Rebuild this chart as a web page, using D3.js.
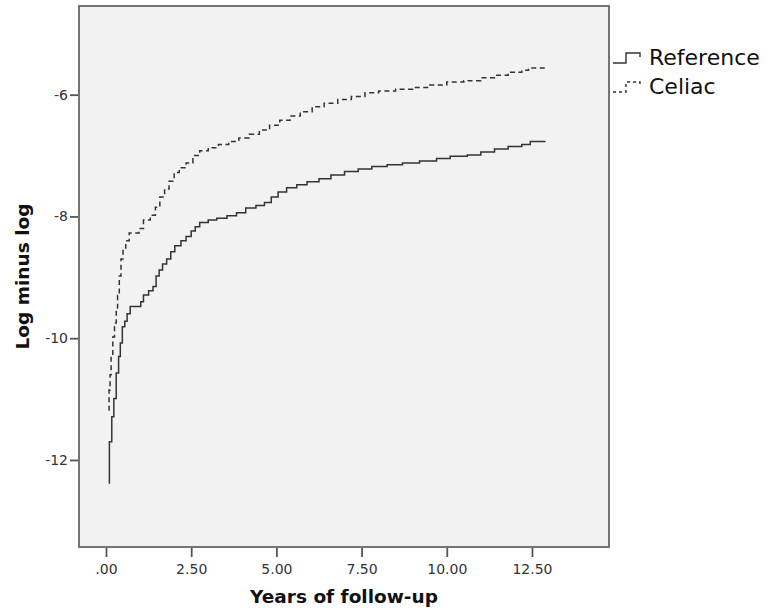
<!DOCTYPE html>
<html>
<head>
<meta charset="utf-8">
<script src="https://cdn.jsdelivr.net/npm/d3@7"></script>
<style>
  body { margin: 0; background: #fff; }
  text { font-family: "DejaVu Sans", sans-serif; }
</style>
</head>
<body>
<div id="chart"></div>
<script>
// DATA
const seriesNames = ["Reference", "Celiac"];

// Reference group: [years, log minus log]
const referenceSteps = [
  [0.08, -12.38], [0.10, -11.70], [0.17, -11.29], [0.23, -10.99], [0.30, -10.57],
  [0.37, -10.30], [0.42, -10.08], [0.48, -9.81], [0.55, -9.72], [0.62, -9.60],
  [0.71, -9.48], [1.02, -9.40], [1.10, -9.29], [1.25, -9.22], [1.38, -9.15],
  [1.47, -8.98], [1.56, -8.88], [1.66, -8.78], [1.78, -8.70], [1.90, -8.58],
  [2.02, -8.48], [2.20, -8.40], [2.35, -8.33], [2.50, -8.24], [2.62, -8.17],
  [2.75, -8.10], [3.00, -8.06], [3.25, -8.03], [3.55, -7.99], [3.83, -7.94],
  [4.10, -7.86], [4.40, -7.82], [4.65, -7.77], [4.85, -7.68], [5.05, -7.60],
  [5.30, -7.53], [5.60, -7.48], [5.90, -7.43], [6.25, -7.38], [6.60, -7.32],
  [7.00, -7.26], [7.40, -7.22], [7.80, -7.18], [8.25, -7.15], [8.70, -7.12],
  [9.20, -7.09], [9.70, -7.05], [10.10, -7.01], [10.60, -6.99], [11.00, -6.94],
  [11.40, -6.89], [11.80, -6.85], [12.20, -6.82], [12.45, -6.77], [12.88, -6.76]
];

// Celiac group
const celiacSteps = [
  [0.07, -11.18], [0.09, -10.85], [0.12, -10.60], [0.15, -10.30], [0.20, -9.98],
  [0.25, -9.75], [0.30, -9.55], [0.34, -9.30], [0.39, -8.98], [0.44, -8.70],
  [0.50, -8.52], [0.58, -8.40], [0.68, -8.27], [0.97, -8.20], [1.10, -8.06],
  [1.30, -7.98], [1.45, -7.85], [1.58, -7.68], [1.72, -7.55], [1.85, -7.42],
  [2.00, -7.28], [2.15, -7.20], [2.35, -7.12], [2.55, -7.00], [2.75, -6.92],
  [3.00, -6.87], [3.30, -6.82], [3.60, -6.77], [3.90, -6.71], [4.20, -6.65],
  [4.50, -6.58], [4.80, -6.50], [5.10, -6.42], [5.40, -6.35], [5.70, -6.28],
  [6.05, -6.20], [6.40, -6.14], [6.80, -6.08], [7.20, -6.03], [7.60, -5.97],
  [8.00, -5.94], [8.50, -5.91], [9.00, -5.88], [9.50, -5.84], [10.00, -5.79],
  [10.50, -5.77], [11.00, -5.72], [11.40, -5.68], [11.80, -5.63], [12.20, -5.60],
  [12.40, -5.56], [12.88, -5.55]
];

const xTicks = [0, 2.5, 5, 7.5, 10, 12.5];
const xTickLabels = [".00", "2.50", "5.00", "7.50", "10.00", "12.50"];
const yTicks = [-6, -8, -10, -12];
const yTickLabels = ["-6", "-8", "-10", "-12"];

// LAYOUT
const width = 772;
const height = 614;
const plot = { left: 79, top: 6, right: 609, bottom: 547 };

const svg = d3.select('#chart').append('svg')
  .attr('width', width)
  .attr('height', height);

const x = d3.scaleLinear()
  .domain([-0.792, 14.76])
  .range([plot.left, plot.right]);

const y = d3.scaleLinear()
  .domain([-13.43, -4.543])
  .range([plot.bottom, plot.top]);

// plot area
svg.append('rect')
  .attr('x', plot.left)
  .attr('y', plot.top)
  .attr('width', plot.right - plot.left)
  .attr('height', plot.bottom - plot.top)
  .style('fill', '#f2f2f2')
  .style('stroke', '#666')
  .style('stroke-width', 1.8);

// axes
const xAxis = svg.append('g')
  .attr('transform', `translate(0, ${plot.bottom + 1})`)
  .call(d3.axisBottom(x)
    .tickValues(xTicks)
    .tickSize(9)
    .tickSizeOuter(0)
    .tickFormat((d, i) => xTickLabels[i]));

const yAxis = svg.append('g')
  .attr('transform', `translate(${plot.left - 1}, 0)`)
  .call(d3.axisLeft(y)
    .tickValues(yTicks)
    .tickSize(8)
    .tickSizeOuter(0)
    .tickFormat((d, i) => yTickLabels[i]));

[xAxis, yAxis].forEach(function(ax) {
  ax.select('.domain').remove();
  ax.selectAll('line').style('stroke', '#555').style('stroke-width', 1.8);
  ax.selectAll('text')
    .style('font-size', '14px')
    .style('fill', '#333');
});
xAxis.selectAll('text').attr('dy', '1.0em');
yAxis.selectAll('text').attr('x', -10);

// axis titles
svg.append('text')
  .attr('x', (plot.left + plot.right) / 2)
  .attr('y', 603)
  .attr('text-anchor', 'middle')
  .style('font-size', '18.5px')
  .style('font-weight', 'bold')
  .style('fill', '#111')
  .text('Years of follow-up');

svg.append('text')
  .attr('transform', `translate(29, ${(plot.top + plot.bottom) / 2}) rotate(-90)`)
  .attr('text-anchor', 'middle')
  .style('font-size', '18.5px')
  .style('font-weight', 'bold')
  .style('fill', '#111')
  .text('Log minus log');

// step lines
const line = d3.line()
  .x(d => x(d[0]))
  .y(d => y(d[1]))
  .curve(d3.curveStepAfter);

const series = [
  { name: seriesNames[0], values: referenceSteps, dash: null },
  { name: seriesNames[1], values: celiacSteps, dash: '5,3.5' }
];

svg.selectAll('path.km')
  .data(series)
  .enter()
  .append('path')
  .attr('class', 'km')
  .attr('d', d => line(d.values))
  .style('fill', 'none')
  .style('stroke', '#333')
  .style('stroke-width', 1.5)
  .style('stroke-dasharray', d => d.dash);

// legend
const legend = svg.selectAll('g.legend')
  .data(series)
  .enter()
  .append('g')
  .attr('class', 'legend')
  .attr('transform', (d, i) => `translate(613, ${63 + i * 29})`);

legend.append('path')
  .attr('d', 'M0,0 H13 V-10 H27 V-6')
  .style('fill', 'none')
  .style('stroke', '#333')
  .style('stroke-width', 1.4)
  .style('stroke-dasharray', d => d.dash ? '3,3' : null);

legend.append('text')
  .attr('x', 36)
  .attr('y', 2)
  .style('font-size', '22px')
  .style('fill', '#111')
  .text(d => d.name);
</script>
</body>
</html>
